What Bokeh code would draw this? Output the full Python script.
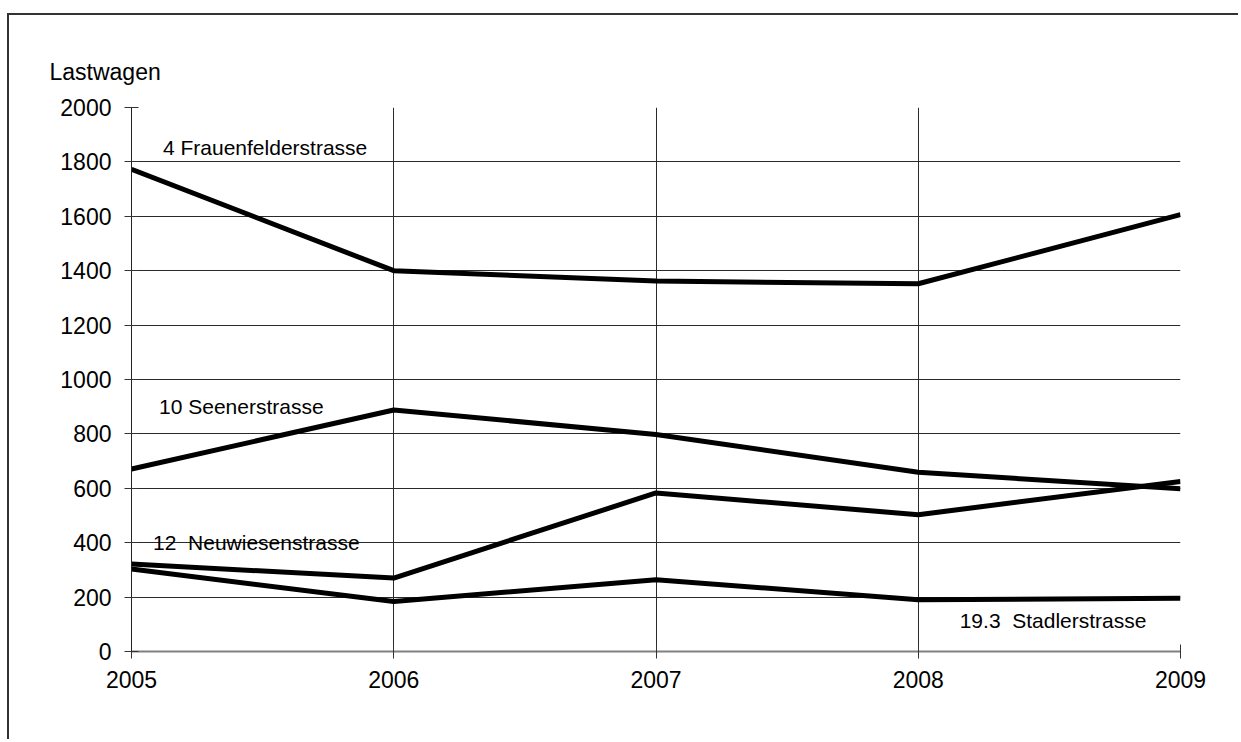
from bokeh.plotting import figure
from bokeh.models import Range1d, FixedTicker, Label
from bokeh.embed import file_html
from bokeh.resources import INLINE

# ---- data ----
years = [2005, 2006, 2007, 2008, 2009]
frauenfelder = [1773, 1400, 1362, 1352, 1606]
seener = [671, 888, 798, 659, 598]
neuwiesen = [322, 270, 583, 503, 625]
stadler = [303, 184, 264, 190, 196]

series_names = ["4 Frauenfelderstrasse", "10 Seenerstrasse",
                "12 \u00a0Neuwiesenstrasse", "19.3 \u00a0Stadlerstrasse"]
y_ticks = [0, 200, 400, 600, 800, 1000, 1200, 1400, 1600, 1800, 2000]
y_title = "Lastwagen"

FONT = "Liberation Sans"

p = figure(width=1231, height=726, output_backend="svg", toolbar_location=None,
           x_range=Range1d(2005, 2009), y_range=Range1d(0, 2000),
           min_border_left=122, min_border_right=60,
           min_border_top=92, min_border_bottom=90)
p.styles = {"border-top": "2px solid #333333", "border-left": "2px solid #333333",
            "margin-top": "13px", "margin-left": "7px"}
p.outline_line_color = None
p.background_fill_color = "white"
p.border_fill_color = "white"

# title used as the y-axis caption
p.title.text = y_title
p.title.align = "left"
p.title.offset = -82
p.title.standoff = 46
p.title.text_font = FONT
p.title.text_font_size = "23px"
p.title.text_font_style = "normal"
p.title.text_color = "black"

# grid
p.xgrid.ticker = FixedTicker(ticks=years)
p.ygrid.ticker = FixedTicker(ticks=y_ticks)
for g in (p.xgrid, p.ygrid):
    g.grid_line_color = "#2a2a2a"
    g.grid_line_width = 1

# axes
p.xaxis.ticker = FixedTicker(ticks=years)
p.yaxis.ticker = FixedTicker(ticks=y_ticks)
for ax in (p.xaxis, p.yaxis):
    ax.major_tick_in = 7
    ax.major_tick_out = 7
    ax.minor_tick_line_color = None
    ax.major_label_text_font = FONT
    ax.major_label_text_font_size = "23px"
    ax.major_label_text_color = "black"
    ax.major_tick_line_color = "#333333"
p.xaxis.axis_line_color = "#808080"
p.xaxis.axis_line_width = 2
p.yaxis.axis_line_color = "#222222"
p.yaxis.major_label_standoff = 13
p.xaxis.major_label_standoff = 12

# lines
for ys in (frauenfelder, seener, neuwiesen, stadler):
    p.line(years, ys, line_color="black", line_width=5)

# series labels
label_pos = [(2005.12, 1854), (2005.105, 901), (2005.082, 400), (2008.158, 113)]
for name, (lx, ly) in zip(series_names, label_pos):
    p.add_layout(Label(x=lx, y=ly, text=name, text_font=FONT,
                       text_font_size="21px", text_baseline="middle",
                       text_align="left", text_color="black"))

open("out.html", "w").write(file_html(p, INLINE))
